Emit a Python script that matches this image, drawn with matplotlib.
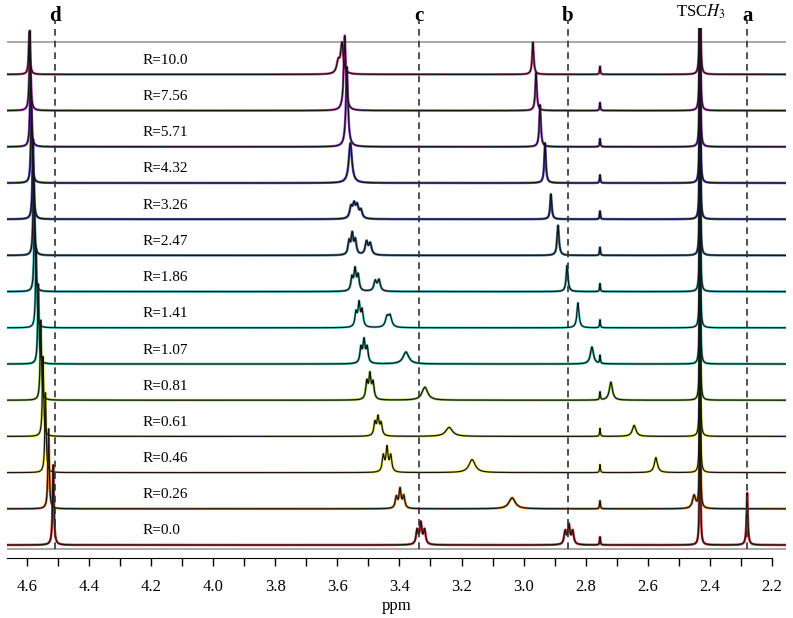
import numpy as np
import matplotlib
matplotlib.use("Agg")
import matplotlib.pyplot as plt
from matplotlib.ticker import MultipleLocator

plt.rcParams['font.family'] = ['Liberation Serif', 'DejaVu Serif']
plt.rcParams['mathtext.fontset'] = 'stix'

# ---------- Daten (von unten nach oben) ----------
R_LABELS = ["0.0", "0.26", "0.46", "0.61", "0.81", "1.07", "1.41",
            "1.86", "2.47", "3.26", "4.32", "5.71", "7.56", "10.0"]

COLORS = ['#d01818', '#e07010', '#e8e020', '#c8d820', '#88c840', '#30c0a0',
          '#40d8d8', '#30a8a8', '#306890', '#2840a0', '#4038b8', '#8030c0',
          '#b030b0', '#c0307a']

# Peaks: (ppm, Hoehe, Halbwertsbreite/2)
P_0_0 = [(4.515, 80, 0.0025),
         (3.343, 14, 0.004), (3.331, 21, 0.004), (3.319, 14, 0.004),
         (2.866, 13, 0.004), (2.854, 19, 0.004), (2.842, 13, 0.004),
         (2.280, 52, 0.0025)]
P_0_26 = [(4.530, 80, 0.0025),
          (3.410, 11, 0.004), (3.398, 19, 0.004), (3.386, 12, 0.004),
          (3.037, 11, 0.012),
          (2.451, 13, 0.006)]
P_0_46 = [(4.540, 80, 0.0025),
          (3.452, 16, 0.004), (3.440, 24, 0.004), (3.428, 16, 0.004),
          (3.166, 13, 0.012),
          (2.574, 15, 0.006)]
P_0_61 = [(4.548, 80, 0.0025),
          (3.479, 13, 0.004), (3.469, 18, 0.004), (3.459, 12, 0.004),
          (3.240, 9, 0.013),
          (2.644, 11, 0.007)]
P_0_81 = [(4.555, 80, 0.0025),
          (3.505, 17, 0.004), (3.495, 24, 0.004), (3.485, 16, 0.004),
          (3.318, 13, 0.011),
          (2.719, 18, 0.006)]
P_1_07 = [(4.563, 80, 0.0025),
          (3.524, 15, 0.004), (3.514, 22, 0.004), (3.504, 15, 0.004),
          (3.379, 12, 0.011),
          (2.780, 17, 0.006)]
P_1_41 = [(4.570, 80, 0.0025),
          (3.540, 14, 0.004), (3.530, 23, 0.004), (3.520, 16, 0.004),
          (3.440, 10, 0.006), (3.430, 11, 0.006),
          (2.825, 25, 0.004)]
P_1_86 = [(4.575, 80, 0.0025),
          (3.553, 13, 0.004), (3.543, 21, 0.004), (3.533, 15, 0.004),
          (3.478, 10, 0.005), (3.466, 11, 0.005),
          (2.860, 26, 0.0035)]
P_2_47 = [(4.578, 80, 0.0025),
          (3.562, 13, 0.004), (3.552, 20, 0.004), (3.542, 14, 0.004),
          (3.506, 13, 0.005), (3.494, 11, 0.005),
          (2.889, 30, 0.0035)]
P_3_26 = [(4.580, 80, 0.0025),
          (3.556, 11, 0.005), (3.546, 13, 0.005), (3.536, 12, 0.005), (3.524, 8, 0.005),
          (2.912, 25, 0.003)]
P_4_32 = [(4.585, 80, 0.0025),
          (3.558, 40, 0.006),
          (2.931, 40, 0.003)]
P_5_71 = [(4.588, 80, 0.0025),
          (3.569, 80, 0.004),
          (2.947, 42, 0.003)]
P_7_56 = [(4.590, 80, 0.0025),
          (3.576, 75, 0.004),
          (2.960, 38, 0.003)]
P_10_0 = [(4.592, 43, 0.0025),
          (3.585, 30, 0.005), (3.597, 12, 0.006),
          (2.970, 32, 0.003)]

SPECTRA = [P_0_0, P_0_26, P_0_46, P_0_61, P_0_81, P_1_07, P_1_41,
           P_1_86, P_2_47, P_3_26, P_4_32, P_5_71, P_7_56, P_10_0]

# in allen Spektren: TSC-CH3 und kleines Signal bei 2.75
COMMON = [(2.432, 600, 0.0008), (2.754, 8, 0.0015)]

# gestrichelte Linien a-d
LINE_PPM = [4.510, 3.337, 2.857, 2.280]
LINE_TXT = ["d", "c", "b", "a"]

# ---------- Plot ----------
OFFSET = 36.2
X_LEFT, X_RIGHT = 4.664, 2.155
ppm = np.linspace(X_RIGHT, X_LEFT, 16000)


def lorentz(x, x0, h, w):
    return h * w**2 / ((x - x0)**2 + w**2)


fig = plt.figure(figsize=(7.93, 6.18), dpi=100)
ax = fig.add_axes([7/793, 60/618, 779/793, 530/618])

ax.hlines([503, -4], X_LEFT, X_RIGHT, color='#999999', lw=1.2, zorder=0)

for i, (peaks, label, col) in enumerate(zip(SPECTRA, R_LABELS, COLORS)):
    y = np.zeros_like(ppm)
    for p in peaks + COMMON:
        y += lorentz(ppm, *p)
    base = i * OFFSET
    ax.plot(ppm, y + base, color=col, lw=1.8, alpha=0.85, zorder=2)
    ax.plot(ppm, y + base, color='#151515', lw=0.9, zorder=3)
    ax.text(4.229, base + 14, "R=" + label, fontsize=11, ha='left', va='center')

ax.vlines(LINE_PPM, -4, 525, colors='#333333', linestyles=(0, (4, 3)),
          lw=1.2, clip_on=False, zorder=5)
for x, s in zip(LINE_PPM, LINE_TXT):
    ax.text(x, 529, s, fontsize=15, fontweight='bold', ha='center', va='center')
ax.text(2.43, 533, r'TSC$\mathit{H}_3$', fontsize=12, ha='center', va='center')

ax.set_xlim(X_LEFT, X_RIGHT)
ax.set_ylim(-13, 517)
for s in ['top', 'left', 'right']:
    ax.spines[s].set_visible(False)
ax.spines['bottom'].set_bounds(X_LEFT, 2.2)
ax.set_yticks([])
ax.xaxis.set_major_locator(MultipleLocator(0.2))
ax.xaxis.set_minor_locator(MultipleLocator(0.1))
ax.tick_params(axis='x', which='both', direction='out', length=6, width=1)
ax.tick_params(axis='x', which='major', labelsize=12, pad=9)
ax.set_xlabel("ppm", fontsize=12, labelpad=2)

fig.savefig("out.png", dpi=100)
